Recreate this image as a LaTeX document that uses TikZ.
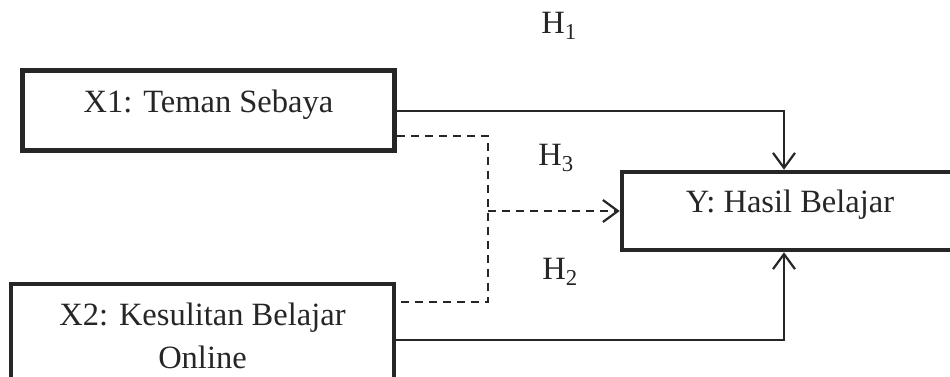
\documentclass[tikz,border=0pt]{standalone}
\usepackage{fontspec}
\setmainfont{Liberation Serif}
\usetikzlibrary{arrows.meta,calc}
\definecolor{ink}{HTML}{262626}
\begin{document}
\begin{tikzpicture}[x=1pt,y=-1pt,
  varbox/.style={draw=ink, line width=4.5pt, inner sep=0pt, align=center, text=ink,
     font=\fontsize{32.5}{43}\selectfont},
  raised/.style={text depth=19pt},
  conn/.style={draw=ink, line width=2pt},
  dconn/.style={conn, dash pattern=on 8pt off 6pt},
  tip/.style={-{Straight Barb[length=15pt,width=22pt,line width=2.2pt]}},
  hlabel/.style={text=ink, font=\fontsize{32.5}{36}\selectfont, inner sep=0pt}]
\useasboundingbox (0,0) rectangle (950,376);
\fill[white] (0,0) rectangle (950,376);
\node[varbox, raised, minimum width=372pt, minimum height=80pt] (X1) at (208.5,110.5) {X1: Teman Sebaya};
\node[varbox, minimum width=383pt, minimum height=104pt] (X2) at (202.5,336) {X2: Kesulitan Belajar\\Online};
\node[varbox, raised, minimum width=336pt, minimum height=78pt] (Y) at (790,211) {Y: Hasil Belajar};
\coordinate (top) at ([xshift=-6pt]Y.north);
\coordinate (bot) at ([xshift=-6pt]Y.south);
\coordinate (j1) at (488,136);
\coordinate (j2) at (488,302);
\coordinate (jm) at (488,211);
\draw[conn, tip] (X1.east) -| (top);
\draw[conn, tip] ([yshift=-4pt]X2.east) -| (bot);
\draw[dconn] ([yshift=-25.5pt]X1.east) -- (j1) -- (j2) -- (X2.east |- j2);
\draw[dconn, tip] (jm) -- (Y.west);
\node[hlabel] (H1) at (559,26) {H\textsubscript{1}};
\node[hlabel] (H3) at (556,158) {H\textsubscript{3}};
\node[hlabel] (H2) at (560,272) {H\textsubscript{2}};
\end{tikzpicture}
\end{document}
